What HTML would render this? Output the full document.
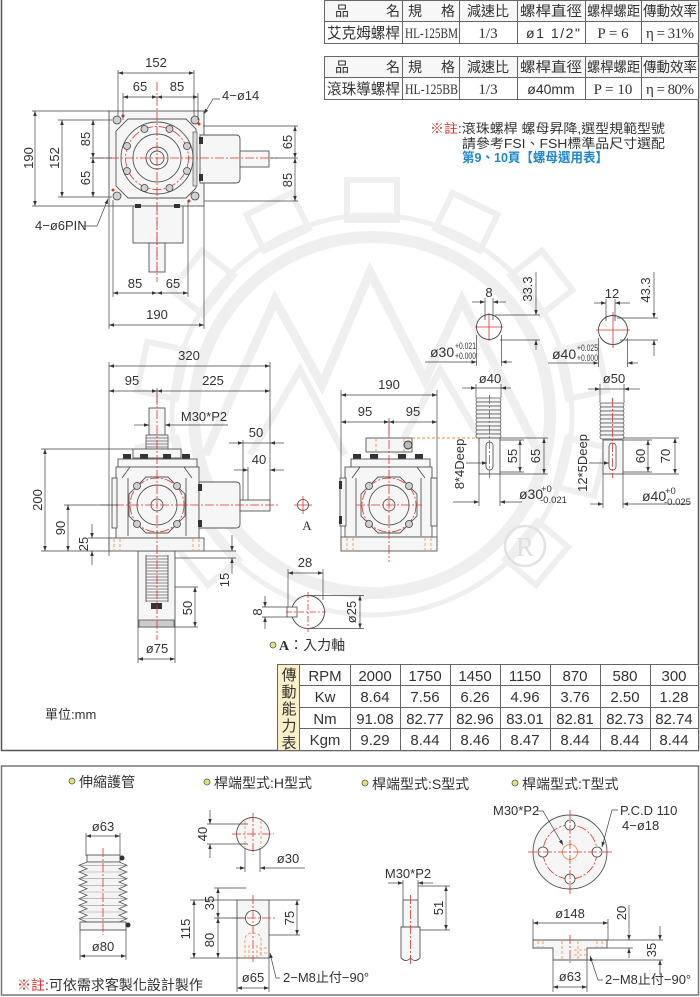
<!DOCTYPE html>
<html><head><meta charset="utf-8"><style>
html,body{margin:0;padding:0;background:#fff;}
svg{display:block;font-family:"Liberation Sans","Noto Sans CJK TC",sans-serif;font-size:13px}
text{fill:#333}
.ser{font-family:"Liberation Serif","Noto Serif CJK SC",serif}
.k{stroke:#444;stroke-width:.8;fill:none}
.dm{stroke:#444;stroke-width:.7;fill:none}
.r{stroke:#e5312c;stroke-width:.8;stroke-dasharray:9 2 2 2;fill:none}
.o{stroke:#f08c3c;stroke-width:.8;stroke-dasharray:3 2;fill:none}
.b{stroke:#555;stroke-width:.9;fill:#f6f6f6}
.w{stroke:#efefef;fill:none}
.bl{fill:#333}
.h{fill:#d0d0d0;stroke:#444;stroke-width:.8}
</style></head><body>
<svg width="700" height="997" viewBox="0 0 700 997" xmlns="http://www.w3.org/2000/svg">
<defs>
<marker id="a" viewBox="0 0 10 10" refX="10" refY="5" markerWidth="6" markerHeight="5" orient="auto-start-reverse" markerUnits="userSpaceOnUse"><path d="M0,1.5 L10,5 L0,8.5z" fill="#333"/></marker>
</defs>

<!-- watermark -->
<g class="w">
<circle cx="372" cy="415" r="178" stroke-width="12"/>
<circle cx="372" cy="415" r="200" stroke-width="5"/>
<g stroke-width="6">
<rect x="347" y="180" width="50" height="40" transform="rotate(0 372 415)"/>
<rect x="347" y="180" width="50" height="40" transform="rotate(-26 372 415)"/>
<rect x="347" y="180" width="50" height="40" transform="rotate(26 372 415)"/>
<rect x="347" y="180" width="50" height="40" transform="rotate(-52 372 415)"/>
<rect x="347" y="180" width="50" height="40" transform="rotate(52 372 415)"/>
<rect x="347" y="180" width="50" height="40" transform="rotate(-78 372 415)"/>
<rect x="347" y="180" width="50" height="40" transform="rotate(78 372 415)"/>
<rect x="347" y="180" width="50" height="40" transform="rotate(-104 372 415)"/>
<rect x="347" y="180" width="50" height="40" transform="rotate(104 372 415)"/>
<rect x="347" y="180" width="50" height="40" transform="rotate(-130 372 415)"/>
<rect x="347" y="180" width="50" height="40" transform="rotate(130 372 415)"/>
</g>
<polyline points="205,455 275,300 322,385 370,272 425,380 462,300 540,455" stroke-width="9"/>
<polyline points="250,455 300,370 345,455" stroke-width="7"/>
<polyline points="395,455 440,370 490,455" stroke-width="7"/>
</g>

<!-- frames -->
<rect x="1.5" y="-2" width="697" height="752.5" fill="none" stroke="#555" stroke-width="1.5"/>
<rect x="1.5" y="766" width="697" height="229" fill="none" stroke="#777" stroke-width="1.5"/>

<!-- top tables -->
<g>
<rect x="324.5" y="0.5" width="374" height="21" fill="#f7f7f7" stroke="#666"/>
<rect x="324.5" y="21.5" width="374" height="22" fill="#fff" stroke="#666"/>
<path d="M402.5 0V43M459.5 0V43M517.5 0V43M585.5 0V43M641.5 0V43" stroke="#666"/>
<text x="335" y="16" font-size="14">品</text><text x="386" y="16" font-size="14">名</text>
<text x="408" y="16" font-size="14">規</text><text x="441" y="16" font-size="14">格</text>
<text x="488" y="16" font-size="14" text-anchor="middle">減速比</text>
<text x="520" y="16" font-size="14" textLength="62" lengthAdjust="spacingAndGlyphs">螺桿直徑</text>
<text x="587" y="16" font-size="14" textLength="53" lengthAdjust="spacingAndGlyphs">螺桿螺距</text>
<text x="643" y="16" font-size="14" textLength="54" lengthAdjust="spacingAndGlyphs">傳動效率</text>
<text x="327" y="38" font-size="15" textLength="73" lengthAdjust="spacingAndGlyphs">艾克姆螺桿</text>
<text x="405" y="38" font-size="15" class="ser" textLength="53" lengthAdjust="spacingAndGlyphs">HL-125BM</text>
<text x="488" y="38" font-size="15" class="ser" text-anchor="middle">1/3</text>
<text x="526" y="38" font-size="14" textLength="54" lengthAdjust="spacing">ø1  1/2"</text>
<text x="613" y="38" font-size="15" class="ser" text-anchor="middle">P = 6</text>
<text x="646" y="38" font-size="15" class="ser" textLength="48" lengthAdjust="spacing">η = 31%</text>

<rect x="324.5" y="56.5" width="374" height="21" fill="#f7f7f7" stroke="#666"/>
<rect x="324.5" y="77.5" width="374" height="22" fill="#fff" stroke="#666"/>
<path d="M402.5 56V99M459.5 56V99M517.5 56V99M585.5 56V99M641.5 56V99" stroke="#666"/>
<text x="335" y="72" font-size="14">品</text><text x="386" y="72" font-size="14">名</text>
<text x="408" y="72" font-size="14">規</text><text x="441" y="72" font-size="14">格</text>
<text x="488" y="72" font-size="14" text-anchor="middle">減速比</text>
<text x="520" y="72" font-size="14" textLength="62" lengthAdjust="spacingAndGlyphs">螺桿直徑</text>
<text x="587" y="72" font-size="14" textLength="53" lengthAdjust="spacingAndGlyphs">螺桿螺距</text>
<text x="643" y="72" font-size="14" textLength="54" lengthAdjust="spacingAndGlyphs">傳動效率</text>
<text x="327" y="94" font-size="15" textLength="73" lengthAdjust="spacingAndGlyphs">滾珠導螺桿</text>
<text x="405" y="94" font-size="15" class="ser" textLength="53" lengthAdjust="spacingAndGlyphs">HL-125BB</text>
<text x="488" y="94" font-size="15" class="ser" text-anchor="middle">1/3</text>
<text x="551" y="94" font-size="14" text-anchor="middle">ø40mm</text>
<text x="613" y="94" font-size="15" class="ser" text-anchor="middle">P = 10</text>
<text x="646" y="94" font-size="15" class="ser" textLength="48" lengthAdjust="spacing">η = 80%</text>
</g>

<!-- note -->
<text x="430" y="133" font-size="13" textLength="235" lengthAdjust="spacingAndGlyphs"><tspan fill="#e5312c">※註</tspan>:滾珠螺桿 螺母昇降,選型規範型號</text>
<text x="462" y="148" font-size="13" textLength="203" lengthAdjust="spacingAndGlyphs">請參考FSI、FSH標準品尺寸選配</text>
<text x="462" y="162" font-size="13" font-weight="bold" style="fill:#1e88d0" textLength="146" lengthAdjust="spacingAndGlyphs">第9、10頁【螺母選用表】</text>

<!-- ============ TOP VIEW ============ -->
<g>
<rect x="109" y="111" width="95" height="95" class="b"/>
<rect x="133" y="206" width="50" height="37" class="b"/>
<rect x="149" y="243" width="16" height="29" class="b"/>
<rect x="135" y="204" width="6" height="4" class="bl"/>
<rect x="174" y="204" width="6" height="4" class="bl"/>
<path d="M200 135 H236 Q240 135 240 139 V179 Q240 183 236 183 H200Z" class="b"/>
<rect x="240" y="151" width="29" height="16" class="b"/>
<rect x="199" y="137" width="4" height="7" class="bl"/>
<rect x="199" y="174" width="4" height="7" class="bl"/>
<polygon points="128,119 186,119 196,129 196,188 186,198 128,198 116,186 116,131" class="b"/>
<rect x="193" y="132" width="4" height="54" fill="#ddd" stroke="#555" stroke-width=".7"/>
<circle cx="157" cy="158" r="36" class="b"/>
<circle cx="157" cy="158" r="31.5" class="r"/>
<g class="h">
<circle cx="144.5" cy="129" r="3.5"/><circle cx="169.5" cy="129" r="3.5"/>
<circle cx="127" cy="146" r="3.5"/><circle cx="187" cy="146" r="3.5"/>
<circle cx="127" cy="171" r="3.5"/><circle cx="187" cy="171" r="3.5"/>
<circle cx="144.5" cy="188" r="3.5"/><circle cx="169.5" cy="188" r="3.5"/>
<circle cx="117" cy="120" r="4"/><circle cx="195" cy="120" r="4"/>
<circle cx="117" cy="196" r="4"/><circle cx="195" cy="196" r="4"/>
</g>
<circle cx="157" cy="158" r="24" class="b"/>
<circle cx="157" cy="158" r="11" class="b"/>
<circle cx="157" cy="158" r="7" class="b"/>
<path d="M95 158H278M157 82V282" class="r"/>
<path d="M157 206V272" class="r"/>
<circle cx="123" cy="116" r="1.5" fill="#e5312c"/><circle cx="199" cy="124" r="1.5" fill="#e5312c"/>
<circle cx="113" cy="190" r="1.5" fill="#e5312c"/><circle cx="189" cy="201" r="1.5" fill="#e5312c"/>
<!-- dims -->
<path d="M118 70V116M194 70V116M123 93V120M198 93V120" class="dm"/>
<line x1="118" y1="73" x2="194" y2="73" class="dm" marker-start="url(#a)" marker-end="url(#a)"/>
<text x="156" y="67" text-anchor="middle">152</text>
<line x1="123" y1="97" x2="157" y2="97" class="dm" marker-start="url(#a)" marker-end="url(#a)"/>
<line x1="157" y1="97" x2="198" y2="97" class="dm" marker-start="url(#a)" marker-end="url(#a)"/>
<text x="140" y="91" text-anchor="middle">65</text><text x="177" y="91" text-anchor="middle">85</text>
<path d="M204 114L213 99H220" class="dm" marker-start="url(#a)"/>
<text x="222" y="100">4−ø14</text>
<path d="M32 111H109M32 206H109M58 120H112M58 197H112M90 158H112" class="dm"/>
<line x1="35" y1="111" x2="35" y2="206" class="dm" marker-start="url(#a)" marker-end="url(#a)"/>
<text transform="translate(33 158) rotate(-90)" text-anchor="middle">190</text>
<line x1="62" y1="120" x2="62" y2="197" class="dm" marker-start="url(#a)" marker-end="url(#a)"/>
<text transform="translate(59 158) rotate(-90)" text-anchor="middle">152</text>
<line x1="93" y1="120" x2="93" y2="158" class="dm" marker-start="url(#a)" marker-end="url(#a)"/>
<line x1="93" y1="158" x2="93" y2="197" class="dm" marker-start="url(#a)" marker-end="url(#a)"/>
<text transform="translate(90 139) rotate(-90)" text-anchor="middle">85</text>
<text transform="translate(90 178) rotate(-90)" text-anchor="middle">65</text>
<path d="M203 126H298M204 201H298M270 158H298" class="dm"/>
<line x1="295" y1="126" x2="295" y2="158" class="dm" marker-start="url(#a)" marker-end="url(#a)"/>
<line x1="295" y1="158" x2="295" y2="201" class="dm" marker-start="url(#a)" marker-end="url(#a)"/>
<text transform="translate(292 142) rotate(-90)" text-anchor="middle">65</text>
<text transform="translate(292 180) rotate(-90)" text-anchor="middle">85</text>
<text x="35" y="230">4−ø6PIN</text>
<path d="M83 226H97L108 199" class="dm" marker-end="url(#a)"/>
<path d="M113 200V297M188 200V297M109 206V329M204 206V329" class="dm"/>
<line x1="113" y1="293" x2="157" y2="293" class="dm" marker-start="url(#a)" marker-end="url(#a)"/>
<line x1="157" y1="293" x2="188" y2="293" class="dm" marker-start="url(#a)" marker-end="url(#a)"/>
<text x="135" y="288" text-anchor="middle">85</text><text x="173" y="288" text-anchor="middle">65</text>
<line x1="109" y1="325" x2="204" y2="325" class="dm" marker-start="url(#a)" marker-end="url(#a)"/>
<text x="157" y="319" text-anchor="middle">190</text>
</g>

<!-- ============ FRONT VIEW ============ -->
<g>
<path d="M109 362V556M270 362V503M157 388V405" class="dm"/>
<line x1="109" y1="366" x2="270" y2="366" class="dm" marker-start="url(#a)" marker-end="url(#a)"/>
<text x="189" y="360" text-anchor="middle">320</text>
<line x1="109" y1="391" x2="157" y2="391" class="dm" marker-start="url(#a)" marker-end="url(#a)"/>
<line x1="157" y1="391" x2="270" y2="391" class="dm" marker-start="url(#a)" marker-end="url(#a)"/>
<text x="132" y="385" text-anchor="middle">95</text><text x="213" y="385" text-anchor="middle">225</text>
<rect x="138" y="551" width="37" height="76" class="b"/>
<g stroke="#666" stroke-width=".8">
<path d="M146 556H168M146 559H168M146 562H168M146 565H168M146 568H168M146 571H168M146 574H168M146 577H168M146 580H168M146 583H168M146 586H168M146 589H168M146 592H168M146 595H168M146 598H168M146 601H168"/>
</g>
<path d="M146 555V602M168 555V602" class="k"/>
<rect x="151" y="603" width="11" height="6" class="bl"/>
<rect x="139" y="620" width="35" height="7" fill="#ccc" stroke="#555" stroke-width=".8"/>
<rect x="149" y="408" width="16" height="27" class="b"/>
<rect x="146" y="435" width="22" height="14" fill="#f0f0f0" stroke="#555" stroke-width=".8"/>
<path d="M146 438H168M146 441H168M146 444H168M146 447H168" stroke="#666" stroke-width=".8"/>
<rect x="133" y="449" width="48" height="9" class="b"/>
<rect x="123" y="454" width="8" height="5" class="bl"/><rect x="140" y="454" width="8" height="5" class="bl"/>
<rect x="163" y="454" width="8" height="5" class="bl"/><rect x="182" y="454" width="8" height="5" class="bl"/>
<rect x="118" y="459" width="79" height="8" class="b"/>
<rect x="116" y="467" width="83" height="71" class="b"/>
<path d="M122 478L130 467M192 478L184 467M128 478V536M186 478V536" class="k"/>
<rect x="112" y="478" width="5" height="50" class="b"/>
<path d="M199 482H236Q240 482 240 486V524Q240 528 236 528H199Z" class="b"/>
<rect x="240" y="500" width="30" height="11" class="b"/>
<rect x="198" y="484" width="4" height="7" class="bl"/><rect x="198" y="520" width="4" height="7" class="bl"/>
<polygon points="146,477 168,477 185,494 185,516 168,533 146,533 129,516 129,494" class="b"/>
<circle cx="157" cy="505" r="27" class="r"/>
<circle cx="157" cy="505" r="20" class="b"/>
<circle cx="157" cy="505" r="6" class="b"/>
<g class="h"><circle cx="137" cy="486" r="3.5"/><circle cx="177" cy="486" r="3.5"/><circle cx="137" cy="524" r="3.5"/><circle cx="177" cy="524" r="3.5"/></g>
<rect x="109" y="538" width="95" height="13" class="b"/>
<path d="M114 539V550M120 539V550M193 539V550M199 539V550" class="o"/>
<path d="M157 395V640M100 505H278" class="r"/>
<text x="204" y="421" text-anchor="middle">M30*P2</text>
<line x1="134" y1="425" x2="149" y2="425" class="dm" marker-end="url(#a)"/>
<line x1="228" y1="425" x2="165" y2="425" class="dm" marker-end="url(#a)"/>
<path d="M41 449H133M41 551H109M64 505H118M88 538H109M88 551H109" class="dm"/>
<line x1="45" y1="449" x2="45" y2="551" class="dm" marker-start="url(#a)" marker-end="url(#a)"/>
<text transform="translate(42 500) rotate(-90)" text-anchor="middle">200</text>
<line x1="68" y1="505" x2="68" y2="551" class="dm" marker-start="url(#a)" marker-end="url(#a)"/>
<text transform="translate(65 528) rotate(-90)" text-anchor="middle">90</text>
<line x1="92" y1="524" x2="92" y2="538" class="dm" marker-end="url(#a)"/>
<line x1="92" y1="565" x2="92" y2="551" class="dm" marker-end="url(#a)"/>
<text transform="translate(88 544) rotate(-90)" text-anchor="middle">25</text>
<path d="M243 440V500M248 467V500" class="dm"/>
<line x1="229" y1="443" x2="243" y2="443" class="dm" marker-end="url(#a)"/>
<line x1="284" y1="443" x2="270" y2="443" class="dm" marker-end="url(#a)"/>
<line x1="243" y1="443" x2="270" y2="443" class="dm"/>
<text x="256" y="437" text-anchor="middle">50</text>
<line x1="234" y1="470" x2="248" y2="470" class="dm" marker-end="url(#a)"/>
<line x1="284" y1="470" x2="270" y2="470" class="dm" marker-end="url(#a)"/>
<text x="259" y="464" text-anchor="middle">40</text>
<path d="M204 551H236M175 558H236" class="dm"/>
<line x1="232" y1="535" x2="232" y2="551" class="dm" marker-end="url(#a)"/>
<line x1="232" y1="574" x2="232" y2="558" class="dm" marker-end="url(#a)"/>
<text transform="translate(229 580) rotate(-90)" text-anchor="middle">15</text>
<path d="M175 587H198M175 627H198" class="dm"/>
<line x1="195" y1="587" x2="195" y2="627" class="dm" marker-start="url(#a)" marker-end="url(#a)"/>
<text transform="translate(192 608) rotate(-90)" text-anchor="middle">50</text>
<path d="M138 627V663M175 627V663" class="dm"/>
<line x1="138" y1="659" x2="175" y2="659" class="dm" marker-start="url(#a)" marker-end="url(#a)"/>
<text x="157" y="653" text-anchor="middle">ø75</text>
<circle cx="303" cy="505" r="5.5" fill="none" stroke="#444" stroke-width=".8"/>
<path d="M294 505H312M303 496V514" stroke="#e5312c" stroke-width=".8"/>
<text x="307" y="530" class="ser" text-anchor="middle" font-size="13">A</text>
<path d="M288 569V607M323 569V600" class="dm"/>
<line x1="288" y1="573" x2="323" y2="573" class="dm" marker-start="url(#a)" marker-end="url(#a)"/>
<text x="305" y="567" text-anchor="middle">28</text>
<circle cx="308" cy="612" r="16.5" fill="#fff" stroke="#444" stroke-width=".9"/>
<rect x="287" y="607" width="10" height="10" fill="#fff" stroke="#444" stroke-width=".8"/>
<path d="M286 612H326M308 592V632" stroke="#e5312c" stroke-width=".8" stroke-dasharray="6 2 2 2"/>
<path d="M262 607H287M262 617H287" class="dm"/>
<line x1="265" y1="596" x2="265" y2="607" class="dm" marker-end="url(#a)"/>
<line x1="265" y1="629" x2="265" y2="617" class="dm" marker-end="url(#a)"/>
<text transform="translate(262 612) rotate(-90)" text-anchor="middle">8</text>
<path d="M310 595.5H364M310 628.5H364" class="dm"/>
<line x1="360" y1="595.5" x2="360" y2="628.5" class="dm" marker-start="url(#a)" marker-end="url(#a)"/>
<text transform="translate(356 612) rotate(-90)" text-anchor="middle">ø25</text>
<circle cx="273" cy="645" r="3" fill="#e2e27a" stroke="#555" stroke-width=".8"/>
<text x="279" y="650" font-size="14"><tspan class="ser" font-weight="bold">A</tspan>：入力軸</text>
</g>

<!-- ============ SIDE VIEW ============ -->
<g>
<path d="M341 390V540M437 390V540M389 418V436" class="dm"/>
<line x1="341" y1="395" x2="437" y2="395" class="dm" marker-start="url(#a)" marker-end="url(#a)"/>
<text x="389" y="389" text-anchor="middle">190</text>
<line x1="341" y1="422" x2="389" y2="422" class="dm" marker-start="url(#a)" marker-end="url(#a)"/>
<line x1="389" y1="422" x2="437" y2="422" class="dm" marker-start="url(#a)" marker-end="url(#a)"/>
<text x="365" y="416" text-anchor="middle">95</text><text x="413" y="416" text-anchor="middle">95</text>
<rect x="366" y="438" width="46" height="14" class="b"/>
<path d="M376 439V452M404 439V452" class="o"/>
<circle cx="408" cy="445" r="4" fill="#bbb" stroke="#333" stroke-width=".9"/>
<path d="M412 438H478" stroke="#f08c3c" stroke-width=".9" stroke-dasharray="3 2"/>
<rect x="353" y="454" width="8" height="5" class="bl"/><rect x="370" y="454" width="8" height="5" class="bl"/>
<rect x="398" y="454" width="8" height="5" class="bl"/><rect x="415" y="454" width="8" height="5" class="bl"/>
<rect x="351" y="459" width="79" height="8" class="b"/>
<rect x="345" y="467" width="87" height="70" class="b"/>
<path d="M352 478L360 467M425 478L417 467M356 478V536M421 478V536" class="k"/>
<rect x="340" y="478" width="6" height="48" class="b"/><rect x="431" y="478" width="6" height="48" class="b"/>
<rect x="339" y="481" width="3" height="8" class="bl"/><rect x="339" y="516" width="3" height="8" class="bl"/>
<polygon points="378,477 400,477 417,494 417,516 400,533 378,533 361,516 361,494" class="b"/>
<circle cx="389" cy="505" r="27" class="r"/>
<circle cx="389" cy="505" r="20" class="b"/>
<circle cx="389" cy="505" r="6" class="b"/>
<g class="h"><circle cx="369" cy="486" r="3.5"/><circle cx="409" cy="486" r="3.5"/><circle cx="369" cy="524" r="3.5"/><circle cx="409" cy="524" r="3.5"/></g>
<rect x="341" y="537" width="96" height="14" class="b"/>
<path d="M347 538V550M353 538V550M425 538V550M431 538V550" class="o"/>
<path d="M389 425V562M356 505H422" class="r"/>
</g>

<circle cx="525" cy="546" r="20" fill="none" stroke="#e2e2e2" stroke-width="2.5"/>
<text x="525" y="556" class="ser" font-size="27" text-anchor="middle" style="fill:#e0e0e0">R</text>

<!-- ============ SHAFT ENDS ============ -->
<g>
<circle cx="489" cy="327" r="12.5" fill="#fff" stroke="#444" stroke-width=".9"/>
<path d="M485 315V320M493 315V320" class="k"/>
<path d="M475 327H503M489 313V341" stroke="#e5312c" stroke-width=".8"/>
<path d="M485 298V316M493 298V316" class="dm"/>
<line x1="472" y1="302" x2="485" y2="302" class="dm" marker-end="url(#a)"/>
<line x1="506" y1="302" x2="493" y2="302" class="dm" marker-end="url(#a)"/>
<text x="489" y="297" text-anchor="middle">8</text>
<path d="M495 315H540M500 340H540" class="dm"/>
<line x1="536" y1="272" x2="536" y2="315" class="dm" marker-end="url(#a)"/>
<line x1="536" y1="350" x2="536" y2="340" class="dm" marker-end="url(#a)"/>
<text transform="translate(532 289) rotate(-90)" text-anchor="middle">33.3</text>
<path d="M476.5 335V366M501.5 335V366" class="dm"/>
<line x1="425" y1="362" x2="476.5" y2="362" class="dm" marker-end="url(#a)"/>
<line x1="512" y1="362" x2="501.5" y2="362" class="dm" marker-end="url(#a)"/>
<text x="430" y="357" font-size="14">ø30</text>
<text x="455" y="349" font-size="9.5" textLength="21" lengthAdjust="spacingAndGlyphs">+0.021</text>
<text x="455" y="359" font-size="9.5" textLength="21" lengthAdjust="spacingAndGlyphs">+0.000</text>

<circle cx="613" cy="330" r="14.5" fill="#fff" stroke="#444" stroke-width=".9"/>
<path d="M606 316V321M615 316V321" class="k"/>
<path d="M596 330H630M613 312V348" stroke="#e5312c" stroke-width=".8"/>
<path d="M606 299V317M615 299V317" class="dm"/>
<line x1="594" y1="303" x2="606" y2="303" class="dm" marker-end="url(#a)"/>
<line x1="630" y1="303" x2="615" y2="303" class="dm" marker-end="url(#a)"/>
<text x="612" y="298" text-anchor="middle">12</text>
<path d="M617 318H658M620 340H658" class="dm"/>
<line x1="654" y1="272" x2="654" y2="318" class="dm" marker-end="url(#a)"/>
<line x1="654" y1="356" x2="654" y2="340" class="dm" marker-end="url(#a)"/>
<text transform="translate(650 290) rotate(-90)" text-anchor="middle">43.3</text>
<path d="M598.5 338V367M627.5 338V367" class="dm"/>
<line x1="548" y1="363" x2="598.5" y2="363" class="dm" marker-end="url(#a)"/>
<line x1="638" y1="363" x2="627.5" y2="363" class="dm" marker-end="url(#a)"/>
<text x="552" y="359" font-size="14">ø40</text>
<text x="577" y="351" font-size="9.5" textLength="21" lengthAdjust="spacingAndGlyphs">+0.025</text>
<text x="577" y="361" font-size="9.5" textLength="21" lengthAdjust="spacingAndGlyphs">+0.000</text>

<path d="M476 384V398M501 384V398" class="dm"/>
<line x1="462" y1="388" x2="476" y2="388" class="dm" marker-end="url(#a)"/>
<line x1="511" y1="388" x2="501" y2="388" class="dm" marker-end="url(#a)"/>
<line x1="476" y1="388" x2="501" y2="388" class="dm"/>
<text x="490" y="383" text-anchor="middle">ø40</text>
<g fill="#f4f4f4" stroke="#555" stroke-width=".8">
<rect x="476" y="398" width="25" height="4" rx="2"/><rect x="476" y="402" width="25" height="4" rx="2"/>
<rect x="476" y="406" width="25" height="4" rx="2"/><rect x="476" y="410" width="25" height="4" rx="2"/>
<rect x="476" y="414" width="25" height="4" rx="2"/><rect x="476" y="418" width="25" height="4" rx="2"/>
<rect x="476" y="422" width="25" height="4" rx="2"/><rect x="476" y="426" width="25" height="4" rx="2"/>
<rect x="476" y="430" width="25" height="4" rx="2"/><rect x="476" y="434" width="25" height="4" rx="2"/>
</g>
<rect x="479" y="438" width="21" height="36" class="b"/>
<rect x="486" y="442" width="7" height="28" rx="3.5" fill="#fff" stroke="#444" stroke-width=".8"/>
<path d="M489.5 395V478" class="r"/>
<path d="M500 440H524M500 472H524M500 438H548M500 474H548" class="dm"/>
<line x1="520" y1="440" x2="520" y2="472" class="dm" marker-start="url(#a)" marker-end="url(#a)"/>
<text transform="translate(517 456) rotate(-90)" text-anchor="middle">55</text>
<line x1="544" y1="438" x2="544" y2="474" class="dm" marker-start="url(#a)" marker-end="url(#a)"/>
<text transform="translate(540 456) rotate(-90)" text-anchor="middle">65</text>
<text transform="translate(464 464) rotate(-90)" text-anchor="middle">8*4Deep</text>
<line x1="466" y1="463" x2="487" y2="463" class="dm" marker-end="url(#a)"/>
<path d="M479 474V506M500 474V506" class="dm"/>
<line x1="453" y1="502" x2="479" y2="502" class="dm" marker-end="url(#a)"/>
<line x1="522" y1="502" x2="500" y2="502" class="dm" marker-end="url(#a)"/>
<text x="519" y="499" font-size="14">ø30</text>
<text x="541" y="492" font-size="9.5">+0</text>
<text x="540" y="503" font-size="9.5">-0.021</text>

<path d="M600 384V403M624 384V403" class="dm"/>
<line x1="588" y1="389" x2="600" y2="389" class="dm" marker-end="url(#a)"/>
<line x1="640" y1="389" x2="624" y2="389" class="dm" marker-end="url(#a)"/>
<line x1="600" y1="389" x2="624" y2="389" class="dm"/>
<text x="614" y="383" text-anchor="middle">ø50</text>
<g fill="#f4f4f4" stroke="#555" stroke-width=".8">
<rect x="600" y="403" width="24" height="4" rx="2"/><rect x="600" y="407" width="24" height="4" rx="2"/>
<rect x="600" y="411" width="24" height="4" rx="2"/><rect x="600" y="415" width="24" height="4" rx="2"/>
<rect x="600" y="419" width="24" height="4" rx="2"/><rect x="600" y="423" width="24" height="4" rx="2"/>
<rect x="600" y="427" width="24" height="4" rx="2"/><rect x="600" y="431" width="24" height="4" rx="2"/>
<rect x="600" y="435" width="24" height="4" rx="2"/>
</g>
<rect x="603" y="440" width="20" height="34" class="b"/>
<rect x="609" y="443" width="7" height="27" rx="3.5" fill="#fff" stroke="#444" stroke-width=".8"/>
<path d="M612.5 398V478" class="r"/>
<path d="M623 440H652M623 472H652M623 438H679M623 474H679" class="dm"/>
<line x1="648" y1="440" x2="648" y2="472" class="dm" marker-start="url(#a)" marker-end="url(#a)"/>
<text transform="translate(645 456) rotate(-90)" text-anchor="middle">60</text>
<line x1="675" y1="438" x2="675" y2="474" class="dm" marker-start="url(#a)" marker-end="url(#a)"/>
<text transform="translate(670 456) rotate(-90)" text-anchor="middle">70</text>
<text transform="translate(587 463) rotate(-90)" text-anchor="middle">12*5Deep</text>
<line x1="589" y1="463" x2="609" y2="463" class="dm" marker-end="url(#a)"/>
<path d="M603 474V508M623 474V508" class="dm"/>
<line x1="590" y1="504" x2="603" y2="504" class="dm" marker-end="url(#a)"/>
<line x1="690" y1="504" x2="623" y2="504" class="dm" marker-end="url(#a)"/>
<text x="642" y="501" font-size="14">ø40</text>
<text x="665" y="494" font-size="9.5">+0</text>
<text x="664" y="505" font-size="9.5">-0.025</text>
</g>

<!-- ============ PERFORMANCE TABLE ============ -->
<g>
<rect x="277.5" y="664.5" width="22" height="86" fill="#fcf1c6" stroke="#666"/>
<rect x="299.5" y="664.5" width="399" height="86" fill="#fff" stroke="#666"/>
<path d="M299 685.5H699M299 707.5H699M299 728.5H699M350.5 664V750M400.5 664V750M450.5 664V750M500.5 664V750M550.5 664V750M600.5 664V750M650.5 664V750" stroke="#666"/>
<g font-size="15" text-anchor="middle">
<text x="289" y="680">傳</text><text x="289" y="697">動</text><text x="289" y="714">能</text><text x="289" y="731">力</text><text x="289" y="748">表</text>
</g>
<g font-size="15" text-anchor="middle">
<text x="325" y="681">RPM</text><text x="375" y="681">2000</text><text x="425" y="681">1750</text><text x="475" y="681">1450</text><text x="525" y="681">1150</text><text x="575" y="681">870</text><text x="625" y="681">580</text><text x="674" y="681">300</text>
<text x="325" y="702">Kw</text><text x="375" y="702">8.64</text><text x="425" y="702">7.56</text><text x="475" y="702">6.26</text><text x="525" y="702">4.96</text><text x="575" y="702">3.76</text><text x="625" y="702">2.50</text><text x="674" y="702">1.28</text>
<text x="325" y="724">Nm</text><text x="375" y="724">91.08</text><text x="425" y="724">82.77</text><text x="475" y="724">82.96</text><text x="525" y="724">83.01</text><text x="575" y="724">82.81</text><text x="625" y="724">82.73</text><text x="674" y="724">82.74</text>
<text x="325" y="745">Kgm</text><text x="375" y="745">9.29</text><text x="425" y="745">8.44</text><text x="475" y="745">8.46</text><text x="525" y="745">8.47</text><text x="575" y="745">8.44</text><text x="625" y="745">8.44</text><text x="674" y="745">8.44</text>
</g>
</g>
<text x="45" y="719" font-size="13">單位:mm</text>

<!-- ============ BOTTOM PANEL ============ -->
<g font-size="14">
<circle cx="72" cy="781" r="3" fill="#e2e27a" stroke="#555" stroke-width=".8"/>
<text x="79" y="787">伸縮護管</text>
<circle cx="207" cy="782" r="3" fill="#e2e27a" stroke="#555" stroke-width=".8"/>
<text x="214" y="788">桿端型式:H型式</text>
<circle cx="365" cy="783" r="3" fill="#e2e27a" stroke="#555" stroke-width=".8"/>
<text x="372" y="789">桿端型式:S型式</text>
<circle cx="515" cy="783" r="3" fill="#e2e27a" stroke="#555" stroke-width=".8"/>
<text x="522" y="789">桿端型式:T型式</text>
</g>

<g>
<path d="M86 833V856M120 833V856" class="dm"/>
<line x1="86" y1="836" x2="120" y2="836" class="dm" marker-start="url(#a)" marker-end="url(#a)"/>
<text x="103" y="831" text-anchor="middle">ø63</text>
<rect x="87" y="855" width="33" height="7" class="b"/>
<circle cx="122" cy="858" r="2.5" class="bl"/>
<path d="M87 862L79 865.3L87 868.7L79 872L87 875.3L79 878.7L87 882L79 885.3L87 888.7L79 892L87 895.3L79 898.7L87 902L79 905.3L87 908.7L79 912L87 915.3L79 918.7L87 922 H119 L127 918.7L119 915.3L127 912L119 908.7L127 905.3L119 902L127 898.7L119 895.3L127 892L119 888.7L127 885.3L119 882L127 878.7L119 875.3L127 872L119 868.7L127 865.3L119 862Z" fill="#f4f4f4" stroke="#555" stroke-width=".8"/>
<path d="M80 865.3H126M80 872H126M80 878.7H126M80 885.3H126M80 892H126M80 898.7H126M80 905.3H126M80 912H126M80 918.7H126" stroke="#999" stroke-width=".6"/>
<rect x="80" y="922" width="46" height="8" class="b"/>
<circle cx="128" cy="925" r="2.5" class="bl"/>
<path d="M103 848V935" class="r"/>
<path d="M80 930V960M126 930V960" class="dm"/>
<line x1="80" y1="956" x2="126" y2="956" class="dm" marker-start="url(#a)" marker-end="url(#a)"/>
<text x="103" y="951" text-anchor="middle">ø80</text>
<text x="17" y="990" font-size="14"><tspan fill="#e5312c">※註</tspan>:可依需求客製化設計製作</text>
</g>

<g>
<circle cx="253" cy="834" r="16.5" class="b"/>
<path d="M245 821V847M261 821V847" class="o"/>
<path d="M232 834H274M253 813V855" class="r"/>
<path d="M207 824H248M207 844H248" class="dm"/>
<line x1="210" y1="810" x2="210" y2="824" class="dm" marker-end="url(#a)"/>
<line x1="210" y1="858" x2="210" y2="844" class="dm" marker-end="url(#a)"/>
<text transform="translate(207 834) rotate(-90)" text-anchor="middle">40</text>
<path d="M245 848V872M260 848V872" class="dm"/>
<line x1="236" y1="868" x2="245" y2="868" class="dm" marker-end="url(#a)"/>
<line x1="305" y1="868" x2="260" y2="868" class="dm" marker-end="url(#a)"/>
<text x="288" y="863" text-anchor="middle">ø30</text>
<rect x="237" y="900" width="32" height="58" class="b"/>
<circle cx="253" cy="918" r="7.5" fill="#fff" stroke="#444" stroke-width=".8"/>
<path d="M245 958V940Q245 933 253 933Q261 933 261 940V958M249 945V958M257 945V958M259 948H268M259 953H268" class="o"/>
<path d="M232 918H276M253 895V962" class="r"/>
<path d="M190 900H237M190 958H237M214 918H246M214 888H246M269 900H300M269 935H300" class="dm"/>
<line x1="194" y1="900" x2="194" y2="958" class="dm" marker-start="url(#a)" marker-end="url(#a)"/>
<text transform="translate(190 929) rotate(-90)" text-anchor="middle">115</text>
<line x1="218" y1="888" x2="218" y2="918" class="dm" marker-start="url(#a)" marker-end="url(#a)"/>
<text transform="translate(214 903) rotate(-90)" text-anchor="middle">35</text>
<line x1="218" y1="918" x2="218" y2="958" class="dm" marker-start="url(#a)" marker-end="url(#a)"/>
<text transform="translate(214 940) rotate(-90)" text-anchor="middle">80</text>
<line x1="297" y1="900" x2="297" y2="935" class="dm" marker-start="url(#a)" marker-end="url(#a)"/>
<text transform="translate(294 918) rotate(-90)" text-anchor="middle">75</text>
<path d="M237 958V992M269 958V992" class="dm"/>
<line x1="237" y1="988" x2="269" y2="988" class="dm" marker-start="url(#a)" marker-end="url(#a)"/>
<text x="253" y="982" text-anchor="middle">ø65</text>
<path d="M280 978H276L270 953" class="dm" marker-end="url(#a)"/>
<text x="283" y="982">2−M8止付−90°</text>
</g>

<g>
<text x="408" y="878" text-anchor="middle">M30*P2</text>
<path d="M403 880V900M418 880V900" class="dm"/>
<line x1="388" y1="883" x2="403" y2="883" class="dm" marker-end="url(#a)"/>
<line x1="433" y1="883" x2="418" y2="883" class="dm" marker-end="url(#a)"/>
<rect x="403" y="900" width="15" height="27" class="b"/>
<path d="M401 927H420V958Q415 963 410.5 958Q406 963 401 958Z" class="b"/>
<path d="M410.5 895V965" class="r"/>
<path d="M418 886H450M420 930H450" class="dm"/>
<line x1="446" y1="886" x2="446" y2="930" class="dm" marker-start="url(#a)" marker-end="url(#a)"/>
<text transform="translate(443 908) rotate(-90)" text-anchor="middle">51</text>
</g>

<g>
<circle cx="570" cy="852" r="37" class="b"/>
<circle cx="570" cy="852" r="27" class="r"/>
<g fill="#fff" stroke="#444" stroke-width=".8">
<circle cx="570" cy="825" r="5"/><circle cx="543" cy="852" r="5"/><circle cx="597" cy="852" r="5"/><circle cx="570" cy="879" r="5"/>
<circle cx="570" cy="852" r="7.5" stroke="#e08a3c"/>
</g>
<path d="M528 852H612M570 810V895" class="r"/>
<text x="493" y="815">M30*P2</text>
<path d="M537 811H543L563 845" class="dm" marker-end="url(#a)"/>
<text x="620" y="815">P.C.D  110</text>
<text x="622" y="830">4−ø18</text>
<path d="M618 810H612L602 847" class="dm" marker-end="url(#a)"/>
<path d="M533 919V940M608 919V940" class="dm"/>
<line x1="533" y1="923" x2="608" y2="923" class="dm" marker-start="url(#a)" marker-end="url(#a)"/>
<text x="570" y="918" text-anchor="middle">ø148</text>
<path d="M533 940H607V948H587V960H553V948H533Z" class="b"/>
<path d="M538 941V947M543 941V947M597 941V947M602 941V947M562 941V959M578 941V959M574 950H588M574 955H588" class="o"/>
<path d="M570 935V964" class="r"/>
<path d="M607 940H663M587 960H663M607 948H633" class="dm"/>
<line x1="629" y1="905" x2="629" y2="940" class="dm" marker-end="url(#a)"/>
<line x1="629" y1="958" x2="629" y2="948" class="dm" marker-end="url(#a)"/>
<text transform="translate(626 913) rotate(-90)" text-anchor="middle">20</text>
<line x1="660" y1="926" x2="660" y2="940" class="dm" marker-end="url(#a)"/>
<line x1="660" y1="975" x2="660" y2="960" class="dm" marker-end="url(#a)"/>
<text transform="translate(656 950) rotate(-90)" text-anchor="middle">35</text>
<path d="M553 960V992M587 960V992" class="dm"/>
<line x1="553" y1="987" x2="587" y2="987" class="dm" marker-start="url(#a)" marker-end="url(#a)"/>
<text x="570" y="981" text-anchor="middle">ø63</text>
<path d="M603 980H598L590 956" class="dm" marker-end="url(#a)"/>
<text x="605" y="984">2−M8止付−90°</text>
</g>
</svg>
</body></html>
